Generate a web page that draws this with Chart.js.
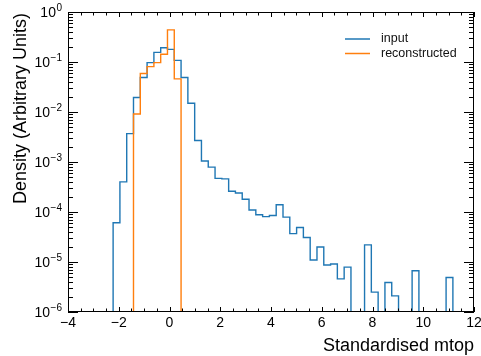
<!DOCTYPE html>
<html><head><meta charset="utf-8">
<script src="https://cdn.jsdelivr.net/npm/chart.js@4/dist/chart.umd.min.js"></script>
<style>html,body{margin:0;padding:0;background:#fff;overflow:hidden}canvas{display:block}</style>
</head><body>
<canvas id="c" width="481" height="356"></canvas>
<script>
// ---- data ----
const binEdges = [-2.222,-1.954,-1.686,-1.419,-1.151,-0.883,-0.615,-0.347,-0.080,0.188,
  0.456,0.724,0.992,1.259,1.527,1.795,2.063,2.331,2.598,2.866,
  3.134,3.402,3.670,3.937,4.205,4.473,4.741,5.009,5.276,5.544,
  5.812,6.080,6.348,6.615,6.883,7.151,7.419,7.687,7.954,8.222,
  8.490,8.758,9.026,9.293,9.561,9.829,10.097,10.365,10.632,10.900,11.168];
const inputDensity = [6.1e-5,4.0e-4,3.7e-3,0.0195,0.049,0.097,0.156,0.193,0.179,0.108,
  0.049,0.015,2.7e-3,1.05e-3,7.9e-4,4.7e-4,4.6e-4,2.6e-4,2.4e-4,1.8e-4,
  1.1e-4,8.8e-5,8.1e-5,8.5e-5,1.4e-4,7.9e-5,3.7e-5,4.9e-5,3.1e-5,1.1e-5,
  2.0e-5,8.7e-6,9.1e-6,4.6e-6,7.9e-6,0,0,2.2e-5,2.5e-6,0,
  3.9e-6,2.1e-6,0,0,6.7e-6,0,0,0,0,4.9e-6];
const reconstructedDensity = [0,0,0,0.0091,0.059,0.081,0.097,0.143,0.44,0.046,
  0,0,0,0,0,0,0,0,0,0, 0,0,0,0,0,0,0,0,0,0,
  0,0,0,0,0,0,0,0,0,0, 0,0,0,0,0,0,0,0,0,0];
const xTickValues = [-4,-2,0,2,4,6,8,10,12];
const yTickExponents = [0,-1,-2,-3,-4,-5,-6];
const seriesNames = ['input','reconstructed'];
const seriesColors = ['#1f77b4','#ff7f0e'];
const xTitle = 'Standardised mtop';
const yTitle = 'Density (Arbitrary Units)';

const FLOOR = 1e-8; // empty bins drop below the axis
function stepPoints(vals){
  const pts = [{x: binEdges[0], y: FLOOR}];
  vals.forEach((v,i)=>pts.push({x: binEdges[i], y: v > 0 ? v : FLOOR}));
  const last = vals[vals.length-1];
  pts.push({x: binEdges[binEdges.length-1], y: last > 0 ? last : FLOOR});
  pts.push({x: binEdges[binEdges.length-1], y: FLOOR});
  return pts;
}
const FONT = '"Liberation Sans", Arial, Helvetica, sans-serif';
const supMinus = s => s.replace('-', '\u2212');

const decor = {
  id: 'decor',
  afterDatasetsDraw(chart){
    const ctx = chart.ctx, a = chart.chartArea;
    const xs = chart.scales.x, ys = chart.scales.y;
    ctx.save();
    ctx.strokeStyle = '#000'; ctx.lineWidth = 1;
    // frame
    ctx.strokeRect(a.left+0.5, a.top+0.5, a.right-a.left-1, a.bottom-a.top-1);
    // x ticks (inside, bottom and top)
    ctx.beginPath();
    for (let v = -4; v <= 12.0001; v += 0.5){
      const px = Math.round(xs.getPixelForValue(v)) + 0.5;
      const major = xTickValues.includes(v);
      const len = major ? 5 : 3.5;
      ctx.moveTo(px, a.bottom); ctx.lineTo(px, a.bottom - len);
      ctx.moveTo(px, a.top); ctx.lineTo(px, a.top + len);
    }
    // y ticks (inside, left and right)
    for (const e of yTickExponents){
      for (let m = 1; m <= 9; m++){
        const val = m * Math.pow(10, e);
        if (val > 1.0001) break;
        const py = Math.round(ys.getPixelForValue(val)) + 0.5;
        const len = m === 1 ? 10 : 5;
        ctx.moveTo(a.left, py); ctx.lineTo(a.left + len, py);
        ctx.moveTo(a.right, py); ctx.lineTo(a.right - len, py);
      }
    }
    ctx.stroke();
    // x tick labels
    ctx.fillStyle = '#000';
    ctx.font = '14px ' + FONT;
    ctx.textAlign = 'center'; ctx.textBaseline = 'top';
    for (const v of xTickValues){
      ctx.fillText(supMinus(String(v)), xs.getPixelForValue(v), 316);
    }
    // y tick labels: 10^e
    for (const e of yTickExponents){
      const py = ys.getPixelForValue(Math.pow(10, e));
      const ex = supMinus(String(e));
      ctx.font = '10px ' + FONT;
      const ew = ctx.measureText(ex).width;
      ctx.textAlign = 'right'; ctx.textBaseline = 'alphabetic';
      const right = a.left - 6;
      ctx.fillText(ex, right, py - 1);
      ctx.font = '14px ' + FONT;
      ctx.fillText('10', right - ew - 0.5, py + 5);
    }
    // axis titles
    ctx.font = '18px ' + FONT;
    ctx.textAlign = 'right'; ctx.textBaseline = 'alphabetic';
    ctx.fillText(xTitle, a.right, 351);
    ctx.save();
    ctx.translate(26, a.top + 1);
    ctx.rotate(-Math.PI/2);
    ctx.textAlign = 'right';
    ctx.fillText(yTitle, 0, 0);
    ctx.restore();
    // legend
    ctx.font = '12.5px ' + FONT;
    ctx.textAlign = 'left'; ctx.textBaseline = 'middle';
    chart.data.datasets.forEach((ds, i) => {
      const ly = 39 + i * 14.5;
      ctx.strokeStyle = ds.borderColor; ctx.lineWidth = 1.5;
      ctx.beginPath(); ctx.moveTo(345, ly); ctx.lineTo(370, ly); ctx.stroke();
      ctx.fillStyle = '#111';
      ctx.fillText(ds.label, 381, ly);
    });
    ctx.restore();
  }
};

new Chart(document.getElementById('c'), {
  type: 'line',
  data: {
    datasets: [
      {label: seriesNames[0], data: stepPoints(inputDensity), borderColor: seriesColors[0], order: 1},
      {label: seriesNames[1], data: stepPoints(reconstructedDensity), borderColor: seriesColors[1], order: 0}
    ].map(d => Object.assign(d, {stepped: true, borderWidth: 1.4, pointRadius: 0, fill: false, tension: 0}))
  },
  options: {
    responsive: false, animation: false, devicePixelRatio: 1,
    layout: {padding: {left: 68, right: 7, top: 12, bottom: 44}},
    plugins: {legend: {display: false}, tooltip: {enabled: false}},
    scales: {
      x: {type: 'linear', min: -4, max: 12, display: false},
      y: {type: 'logarithmic', min: 1e-6, max: 1, display: false}
    }
  },
  plugins: [decor]
});
</script>
</body></html>
